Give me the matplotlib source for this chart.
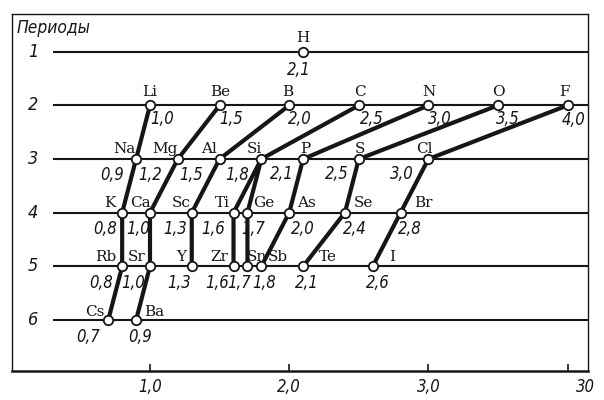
import matplotlib
matplotlib.use("Agg")
import matplotlib.pyplot as plt
from matplotlib import font_manager
from matplotlib.transforms import ScaledTranslation

# ---------------- data ----------------
symbols = ["H",
           "Li", "Be", "B", "C", "N", "O", "F",
           "Na", "Mg", "Al", "Si", "P", "S", "Cl",
           "K", "Ca", "Sc", "Ti", "Ge", "As", "Se", "Br",
           "Rb", "Sr", "Y", "Zr", "Sn", "Sb", "Te", "I",
           "Cs", "Ba"]
electroneg = [2.1,
              1.0, 1.5, 2.0, 2.5, 3.0, 3.5, 4.0,
              0.9, 1.2, 1.5, 1.8, 2.1, 2.5, 3.0,
              0.8, 1.0, 1.3, 1.6, 1.7, 2.0, 2.4, 2.8,
              0.8, 1.0, 1.3, 1.6, 1.7, 1.8, 2.1, 2.6,
              0.7, 0.9]
value_labels = ["2,1",
                "1,0", "1,5", "2,0", "2,5", "3,0", "3,5", "4,0",
                "0,9", "1,2", "1,5", "1,8", "2,1", "2,5", "3,0",
                "0,8", "1,0", "1,3", "1,6", "1,7", "2,0", "2,4", "2,8",
                "0,8", "1,0", "1,3", "1,6", "1,7", "1,8", "2,1", "2,6",
                "0,7", "0,9"]
element_period = [1,
                  2, 2, 2, 2, 2, 2, 2,
                  3, 3, 3, 3, 3, 3, 3,
                  4, 4, 4, 4, 4, 4, 4, 4,
                  5, 5, 5, 5, 5, 5, 5, 5,
                  6, 6]
period_numbers = [1, 2, 3, 4, 5, 6]
group_chains = [
    ["Li", "Na", "K", "Rb", "Cs"],
    ["Be", "Mg", "Ca", "Sr", "Ba"],
    ["B", "Al", "Sc", "Y"],
    ["C", "Si", "Ti", "Zr"],
    ["Si", "Ge", "Sn"],
    ["N", "P", "As", "Sb"],
    ["O", "S", "Se", "Te"],
    ["F", "Cl", "Br", "I"],
]
x_ticks = [1.0, 2.0, 3.0, 4.0]
x_tick_labels = ["1,0", "2,0", "3,0", "30"]
y_title = "Периоды"

# ---------------- layout / style (pixel offsets of labels) ----------------
sym_off = {
    "H": (0, -15),
    "Li": (0, -14.5), "Be": (1, -14.5), "B": (-1, -14.5), "C": (1, -14.5),
    "N": (0, -14.5), "O": (0, -14.5), "F": (-3.5, -14.5),
    "Na": (-12, -12), "Mg": (-13, -12), "Al": (-11, -12), "Si": (-7, -12),
    "P": (2, -12), "S": (1, -12), "Cl": (-4, -12),
    "K": (-12, -11), "Ca": (-10, -11), "Sc": (-11, -11), "Ti": (-11, -11),
    "Ge": (16, -11), "As": (17, -11), "Se": (19, -11), "Br": (23, -11),
    "Rb": (-16, -11), "Sr": (-13, -11), "Y": (-11, -11), "Zr": (-14, -11),
    "Sn": (9, -11), "Sb": (16, -11), "Te": (25, -11), "I": (19, -11),
    "Cs": (-13, -10), "Ba": (18, -10),
}
val_off = {
    "H": (-4, 17),
    "Li": (12, 13), "Be": (12, 13), "B": (11, 13), "C": (13, 13),
    "N": (11, 13), "O": (10, 13), "F": (6, 14),
    "Na": (-24, 14.5), "Mg": (-28, 14.5), "Al": (-28, 14.5), "Si": (-24, 14.5),
    "P": (-21, 14), "S": (-22, 14), "Cl": (-27, 14),
    "K": (-17, 15.5), "Ca": (-12, 15.5), "Sc": (-17, 15.5), "Ti": (-20, 15.5),
    "Ge": (6, 15.5), "As": (14, 15.5), "Se": (10, 15.5), "Br": (9, 15.5),
    "Rb": (-21, 15.5), "Sr": (-17, 15.5), "Y": (-13, 15.5), "Zr": (-16, 15.5),
    "Sn": (-8, 15.5), "Sb": (3, 15.5), "Te": (4, 15.5), "I": (5, 15.5),
    "Cs": (-20, 15.5), "Ba": (4, 15.5),
}

ink = "#161616"
names = {f.name for f in font_manager.fontManager.ttflist}
if "Liberation Sans Narrow" in names:
    ital = dict(family="Liberation Sans Narrow", style="italic")
else:
    ital = dict(family="DejaVu Sans", style="italic", stretch="condensed")
serif = dict(family="DejaVu Serif")

W, H = 604, 400
fig = plt.figure(figsize=(W / 100, H / 100), dpi=100)
L, R, T, B = 12, 588, 14, 371
ax = fig.add_axes([L / W, (H - B) / H, (R - L) / W, (B - T) / H])

PX0, PXU = 10.8, 139.2      # pixel of x=0, pixels per unit
Y1, DY = 51.7, 53.7         # pixel of period 1, pixels per period
ax.set_xlim((L - PX0) / PXU, (R - PX0) / PXU)
ax.set_ylim(6 + (B - 320) / DY, 1 - (Y1 - T) / DY)

for s in ["top", "left", "right"]:
    ax.spines[s].set_linewidth(1.0)
    ax.spines[s].set_color(ink)
ax.spines["bottom"].set_linewidth(1.8)
ax.spines["bottom"].set_color(ink)

# period lines
x_start = (53 - PX0) / PXU
ax.hlines(period_numbers, x_start, ax.get_xlim()[1], colors=ink, lw=1.5, zorder=1)

pos = {s: (v, p) for s, v, p in zip(symbols, electroneg, element_period)}
for chain in group_chains:
    xs = [pos[s][0] for s in chain]
    ys = [pos[s][1] for s in chain]
    ax.plot(xs, ys, color=ink, lw=3.0, solid_capstyle="butt", zorder=2)

ax.plot(electroneg, element_period, ls="none", marker="o", ms=6.8,
        mfc="white", mec=ink, mew=1.3, zorder=3)

k = 72 / 100  # px -> points
sym_fs, val_fs = 11, 12
for s, v, p, lab in zip(symbols, electroneg, element_period, value_labels):
    dx, dy = sym_off[s]
    base = dy + 0.36 * sym_fs / k
    ax.annotate(s, (v, p), xytext=(dx * k, -base * k), textcoords="offset points",
                ha="center", va="baseline", fontsize=sym_fs, color=ink, **serif)
    dx, dy = val_off[s]
    base = dy + 0.36 * val_fs / k
    ax.annotate(lab, (v, p), xytext=(dx * k, -base * k), textcoords="offset points",
                ha="center", va="baseline", fontsize=val_fs, color=ink, **ital)

# period numbers
for p in period_numbers:
    ax.text((33 - PX0) / PXU, p, str(p), ha="center", va="center",
            fontsize=13, color=ink, **ital)

fig.text(17 / W, 1 - 28 / H, y_title, ha="left", va="center",
         fontsize=12.5, color=ink, **ital)

ax.set_yticks([])
ax.set_xticks(x_ticks)
ax.set_xticklabels(x_tick_labels, fontsize=12, color=ink, **ital)
ax.tick_params(axis="x", direction="in", length=5, width=1.2, pad=5, colors=ink)
last = ax.get_xticklabels()[-1]
last.set_transform(last.get_transform() + ScaledTranslation(18 / 100, 0, fig.dpi_scale_trans))

fig.savefig("out.png", dpi=100, facecolor="white")
